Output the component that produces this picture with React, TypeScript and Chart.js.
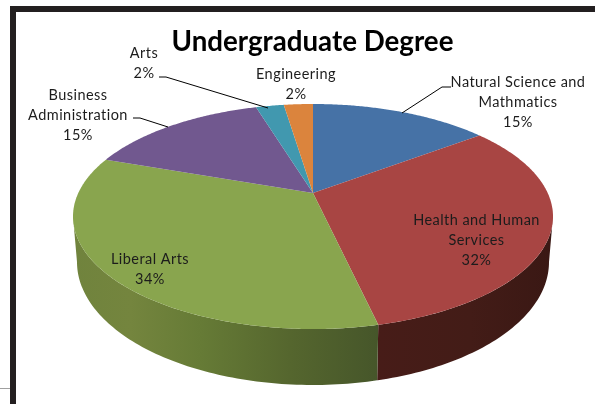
import React, { useEffect, useRef } from "react";
import { Chart, registerables } from "chart.js";

Chart.register(...registerables);

const categories = ["Natural Science and Mathmatics", "Health and Human Services", "Liberal Arts", "Business Administration", "Arts", "Engineering"];
const values = [14.7, 31.7, 33.9, 14.9, 2.3, 2.4];
const topColors = ["#4672A6", "#A84543", "#89A54E", "#71588F", "#4198AF", "#DB843D"];
const titleText = "Undergraduate Degree";

const sideStops: Record<number, [number, string][]> = {
  1: [[378, "#471C18"], [470, "#431C17"], [552, "#3A1814"]],
  2: [[73, "#70833D"], [130, "#74853E"], [200, "#667B36"], [290, "#55662E"], [378, "#46562A"]],
};

// Text placement: [lines, centre x, first line centre y]
const labelLayout: { i: number; lines: string[]; x: number; y: number }[] = [
  { i: 0, lines: ["Natural Science and", "Mathmatics"], x: 518, y: 82 },
  { i: 1, lines: ["Health and Human", "Services"], x: 476.5, y: 220 },
  { i: 2, lines: ["Liberal Arts"], x: 150, y: 259 },
  { i: 3, lines: ["Business", "Administration"], x: 78, y: 95 },
  { i: 4, lines: ["Arts"], x: 144, y: 53 },
  { i: 5, lines: ["Engineering"], x: 296, y: 74 },
];
const leaderLines: number[][][] = [
  [[451, 87], [442, 87], [402, 113]],
  [[133, 118], [140, 118], [168, 127]],
  [[159, 77], [166, 77], [268, 108]],
];

// Projection of the pie disc
const CX = 313, APEX_Y = 193, P = 0.209, A = 234.7, B = 107.6;
const BOTTOM_RX = 236, BOTTOM_CY = 262, BOTTOM_RY = 123;
const T_RIGHT = Math.acos(-P);
const T_LEFT = 2 * Math.PI - T_RIGHT;

function rim(t: number): [number, number] {
  const u = Math.sin(t), v = -Math.cos(t), d = 1 - P * v;
  return [CX + (A * u) / d, APEX_Y + (B * v) / d];
}
function lowerRim(t: number): [number, number] {
  const [x] = rim(t);
  const xb = CX + ((x - CX) * BOTTOM_RX) / 240;
  const k = Math.min(1, Math.abs(xb - CX) / BOTTOM_RX);
  return [xb, BOTTOM_CY + BOTTOM_RY * Math.sqrt(1 - k * k)];
}

const pie3d = {
  id: "pie3d",
  beforeDraw(chart: any) {
    const c = chart.ctx;
    c.save();
    c.fillStyle = "#231F20";
    c.fillRect(10, 6, 6, 398);
    c.fillRect(10, 6, 585, 6);
    c.fillStyle = "#A0A0A0";
    c.fillRect(0, 388, 10, 1);
    c.restore();
  },
  beforeDatasetDraw(chart: any) {
    const c = chart.ctx;
    const arcs = chart.getDatasetMeta(0).data;
    const step = Math.PI / 180;
    const span = (a: any) => [a.startAngle + Math.PI / 2, a.endAngle + Math.PI / 2];
    c.save();
    // side wall
    arcs.forEach((a: any, i: number) => {
      const [s, e] = span(a);
      const from = Math.max(s, T_RIGHT), to = Math.min(e, T_LEFT);
      if (to <= from || !sideStops[i]) return;
      const g = c.createLinearGradient(73, 0, 552, 0);
      sideStops[i].forEach(([x, col]) => g.addColorStop((x - 73) / 479, col));
      c.fillStyle = g;
      c.beginPath();
      const pts: number[] = [];
      for (let t = from; t < to; t += step) pts.push(t);
      pts.push(to);
      pts.forEach((t, k) => {
        const [x, y] = rim(t);
        k ? c.lineTo(x, y) : c.moveTo(x, y);
      });
      pts.slice().reverse().forEach((t) => {
        const [x, y] = lowerRim(t);
        c.lineTo(x, y);
      });
      c.closePath();
      c.fill();
    });
    // top face
    arcs.forEach((a: any, i: number) => {
      const [s, e] = span(a);
      c.fillStyle = topColors[i];
      c.beginPath();
      c.moveTo(CX, APEX_Y);
      for (let t = s; t < e; t += step / 2) {
        const [x, y] = rim(t);
        c.lineTo(x, y);
      }
      const [x, y] = rim(e);
      c.lineTo(x, y);
      c.closePath();
      c.fill();
    });
    c.restore();
    return false;
  },
  afterDraw(chart: any) {
    const c = chart.ctx;
    const total = values.reduce((p, q) => p + q, 0);
    c.save();
    c.strokeStyle = "#000";
    c.lineWidth = 1;
    leaderLines.forEach((l) => {
      c.beginPath();
      l.forEach(([x, y], k) => (k ? c.lineTo(x, y) : c.moveTo(x, y)));
      c.stroke();
    });
    c.fillStyle = "#1c1c1c";
    c.font = "14.5px Lato";
    (c as any).letterSpacing = "0.45px";
    c.textAlign = "center";
    c.textBaseline = "middle";
    labelLayout.forEach(({ i, lines, x, y }) => {
      const all = [...lines, `${Math.round((values[i] / total) * 100)}%`];
      all.forEach((t, k) => c.fillText(t, x, y + k * 20.3));
    });
    c.restore();
  },
};

export default function App() {
  const ref = useRef<HTMLCanvasElement>(null);
  useEffect(() => {
    const chart = new Chart(ref.current!, {
      type: "pie",
      data: {
        labels: categories,
        datasets: [{ data: values, backgroundColor: topColors, borderWidth: 0 }],
      },
      options: {
        animation: false,
        responsive: false,
        devicePixelRatio: 1,
        layout: { padding: { left: 30, top: 0 } },
        plugins: {
          legend: { display: false },
          tooltip: { enabled: false },
          title: {
            display: true,
            text: titleText,
            color: "#000",
            font: { family: "Lato", size: 27.7, weight: "bold" },
            padding: { top: 25, bottom: 6 },
          },
        },
      } as any,
      plugins: [pie3d],
    });
    return () => chart.destroy();
  }, []);
  return (
    <div style={{ position: "fixed", left: 0, top: 0, width: 595, height: 404, background: "#fff" }}>
      <canvas ref={ref} width={595} height={404} style={{ display: "block" }} />
    </div>
  );
}
